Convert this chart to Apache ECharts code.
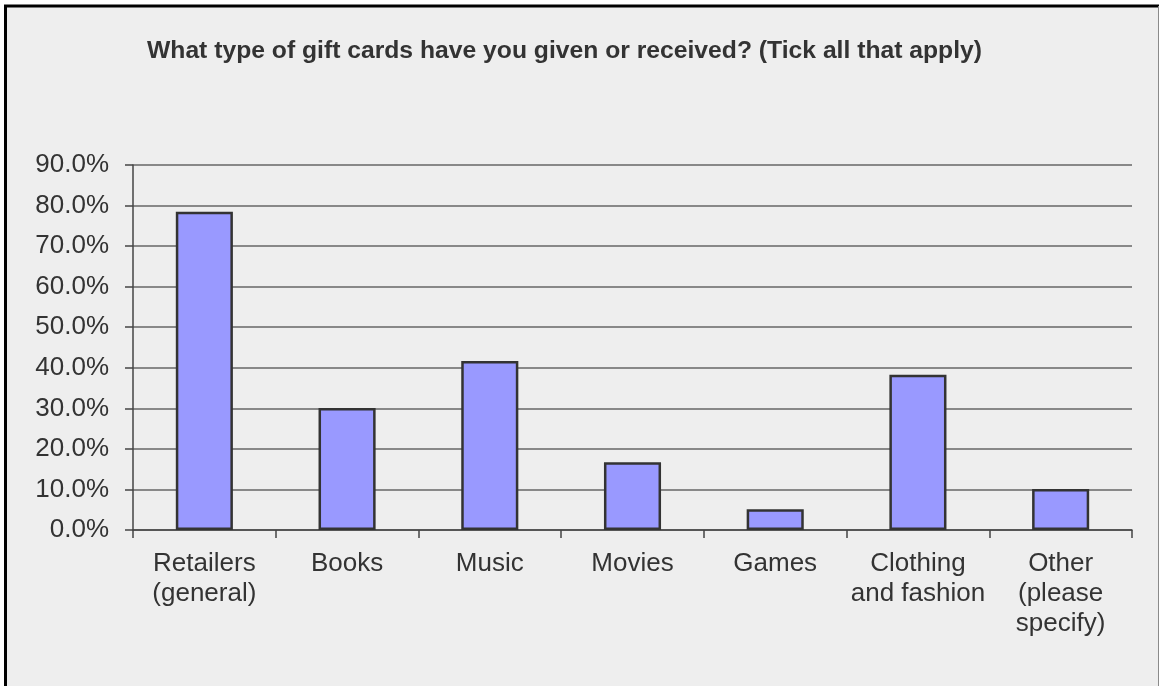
<!DOCTYPE html>
<html>
<head>
<meta charset="utf-8">
<script src="https://cdn.jsdelivr.net/npm/echarts@6/dist/echarts.min.js"></script>
<style>
  html, body { margin: 0; padding: 0; background: #ffffff; }
  #chart { width: 1160px; height: 686px; }
</style>
</head>
<body>
<div id="chart"></div>
<script>
// Survey: types of gift cards given or received (share of respondents, %)
const titleText = 'What type of gift cards have you given or received? (Tick all that apply)';
const categories = [
  'Retailers\n(general)',
  'Books',
  'Music',
  'Movies',
  'Games',
  'Clothing\nand fashion',
  'Other\n(please\nspecify)'
];
const shares = [78.5, 30.1, 41.7, 16.7, 5.1, 38.3, 10.1];
const axisMax = 90;
const axisStep = 10;

const chart = echarts.init(document.getElementById('chart'), null, { renderer: 'canvas' });

const labelFont = '"Liberation Sans", Arial, sans-serif';

chart.setOption({
  backgroundColor: '#ffffff',
  animation: false,
  graphic: [
    // panel background and frame
    { type: 'rect', z: -10, shape: { x: 4, y: 5, width: 1155, height: 690 }, style: { fill: '#eeeeee' } },
    { type: 'line', z: 10, shape: { x1: 5.5, y1: 5, x2: 5.5, y2: 686 }, style: { stroke: '#000000', lineWidth: 3 } },
    { type: 'line', z: 10, shape: { x1: 4, y1: 6, x2: 1159, y2: 6 }, style: { stroke: '#000000', lineWidth: 3 } },
    { type: 'line', z: 10, shape: { x1: 1158.5, y1: 6, x2: 1158.5, y2: 686 }, style: { stroke: '#8a8a8a', lineWidth: 1 } },
    {
      type: 'text', left: 147, top: 39,
      style: { text: titleText, fill: '#333333', font: 'bold 24.7px ' + labelFont }
    }
  ],
  grid: { left: 133, right: 28, top: 165, bottom: 156, containLabel: false },
  xAxis: {
    type: 'category',
    data: categories,
    boundaryGap: true,
    axisLine: { show: true, lineStyle: { color: '#444444', width: 1.5 } },
    axisTick: { show: true, length: 8, alignWithLabel: false, lineStyle: { color: '#444444', width: 1.5 } },
    axisLabel: {
      interval: 0,
      margin: 19,
      color: '#333333',
      fontFamily: labelFont,
      fontSize: 26,
      lineHeight: 30
    },
    splitLine: { show: false }
  },
  yAxis: {
    type: 'value',
    min: 0,
    max: axisMax,
    interval: axisStep,
    axisLine: { show: true, lineStyle: { color: '#444444', width: 1.5 } },
    axisTick: { show: true, length: 8, lineStyle: { color: '#444444', width: 1.5 } },
    axisLabel: {
      margin: 24,
      color: '#333333',
      fontFamily: labelFont,
      fontSize: 26,
      formatter: v => v.toFixed(1) + '%'
    },
    splitLine: { show: true, lineStyle: { color: '#666666', width: 1.5 } }
  },
  series: [{
    type: 'bar',
    data: shares,
    barWidth: '40%',
    itemStyle: { color: '#9999ff', borderColor: '#333333', borderWidth: 2.5 }
  }]
});
</script>
</body>
</html>
